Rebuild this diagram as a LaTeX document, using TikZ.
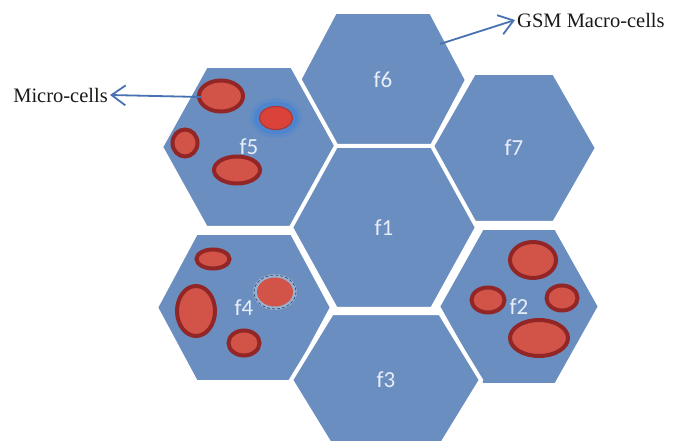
\documentclass[tikz,border=0pt]{standalone}
\usepackage{fontspec}
\setmainfont{Liberation Serif}
\newfontfamily\celllabelfont{Carlito}
\usetikzlibrary{shapes.geometric,arrows.meta}

\definecolor{hexblue}{RGB}{106,142,192}
\definecolor{cellred}{RGB}{210,84,72}
\definecolor{cellrim}{RGB}{146,38,38}
\definecolor{arrowblue}{RGB}{70,114,178}
\definecolor{glowblue}{RGB}{74,132,210}
\definecolor{labelwhite}{RGB}{232,238,248}

\tikzset{
  hexfill/.style={fill=hexblue, draw=white, line width=4, line join=miter},
  hexlabel/.style={font=\celllabelfont\fontsize{23}{27}\selectfont, text=labelwhite, inner sep=0},
  micro/.style={ellipse, fill=cellred, draw=cellrim, line width=4, inner sep=0},
  callout/.style={font=\fontsize{20.5}{24}\selectfont, text=black!90, inner sep=2},
  pointer/.style={draw=arrowblue, line width=1.8,
    -{Straight Barb[length=14pt,width=20pt,line width=1.8pt]}}
}

% name, centre x, centre y, half width, half top edge, half height, label
\newcommand\hexcell[7]{%
  \path[hexfill] ({#2-#4},#3) -- ({#2-#5},{#3-#6}) -- ({#2+#5},{#3-#6})
    -- ({#2+#4},#3) -- ({#2+#5},{#3+#6}) -- ({#2-#5},{#3+#6}) -- cycle;
  \node[hexlabel] (#1) at (#2,#3) {#7};}

\begin{document}
\begin{tikzpicture}[x=1pt,y=-1pt]
\useasboundingbox (0,0) rectangle (673,441);

% macro-cells
\hexcell{f6}{383}{80}{84}{48}{68}{f6}
\hexcell{f7}{514}{148}{83}{40}{75}{f7}
\hexcell{f5}{249}{147}{88}{43}{81}{f5}
\hexcell{f1}{384}{227.5}{93}{48}{81.5}{f1}
\hexcell{f4}{244}{307.5}{88}{48}{74.5}{f4}
\hexcell{f2}{519}{306.5}{81}{37}{78.5}{f2}
\hexcell{f3}{386}{380}{95}{54}{67}{f3}

% micro-cells inside f5
\node[micro, minimum width=44, minimum height=31] (m51) at (221,96) {};
\fill[glowblue, opacity=0.35] (276,118) ellipse [x radius=26, y radius=20];
\fill[glowblue, opacity=0.7] (276,118) ellipse [x radius=22.5, y radius=16.5];
\node[ellipse, fill=cellred!80!red, draw=cellrim!60!cellred, line width=1.2, inner sep=0,
      minimum width=33, minimum height=23] (m52) at (276,118) {};
\node[micro, minimum width=25, minimum height=27] (m53) at (185,143) {};
\node[micro, minimum width=46, minimum height=27] (m54) at (237,170) {};

% micro-cells inside f4
\node[micro, minimum width=33, minimum height=19] (m41) at (213,259) {};
\node[micro, minimum width=38, minimum height=50] (m42) at (196,311) {};
\fill[hexblue!70!white] (275,292) ellipse [x radius=22, y radius=18];
\node[ellipse, fill=cellred, inner sep=0, minimum width=36, minimum height=29] (m43) at (275,292) {};
\draw[densely dashed, draw=black!45!hexblue, line width=0.8] (275,292) ellipse [x radius=21, y radius=17];
\node[micro, minimum width=31, minimum height=25] (m44) at (244,343) {};

% micro-cells inside f2
\node[micro, minimum width=46, minimum height=36] (m21) at (533,260) {};
\node[micro, minimum width=33, minimum height=25] (m22) at (488,300) {};
\node[micro, minimum width=31, minimum height=25] (m23) at (562,298) {};
\node[micro, minimum width=58, minimum height=36] (m24) at (539,338) {};

% callouts
\node[callout, anchor=east] (microtxt) at (110,95) {Micro-cells};
\node[callout, anchor=west] (gsmtxt) at (515,20) {GSM Macro-cells};
\coordinate (microfrom) at (201,97);
\coordinate (gsmfrom) at (440,44);
\draw[pointer] (microfrom) -- (microtxt.east);
\draw[pointer] (gsmfrom) -- (gsmtxt.west);
\end{tikzpicture}
\end{document}
